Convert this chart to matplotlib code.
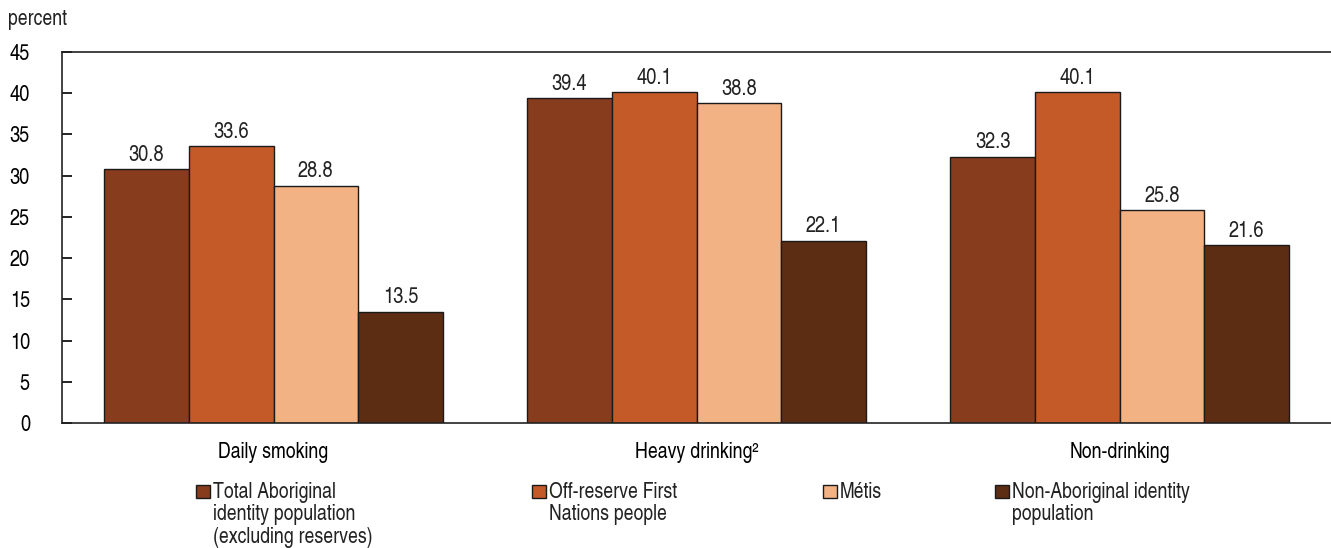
import matplotlib
matplotlib.use("Agg")
import matplotlib.pyplot as plt
from matplotlib.patches import Rectangle
import numpy as np

categories = ["Daily smoking", "Heavy drinking²", "Non-drinking"]
series_labels = [
    "Total Aboriginal\nidentity population\n(excluding reserves)",
    "Off-reserve First\nNations people",
    "Métis",
    "Non-Aboriginal identity\npopulation",
]
total_aboriginal = [30.8, 39.4, 32.3]
off_reserve_fn = [33.6, 40.1, 40.1]
metis = [28.8, 38.8, 25.8]
non_aboriginal = [13.5, 22.1, 21.6]
series_values = [total_aboriginal, off_reserve_fn, metis, non_aboriginal]
colors = ["#873C1E", "#C45A28", "#F3B283", "#5C2D12"]
yticks = [0, 5, 10, 15, 20, 25, 30, 35, 40, 45]

plt.rcParams['font.family'] = ['TeX Gyre Heros Cn', 'Liberation Sans', 'DejaVu Sans']
plt.rcParams['text.color'] = '#222222'
FS = 15.5
FN = 16

fig = plt.figure(figsize=(13.31, 5.48), dpi=100)
ax = fig.add_axes([62/1331, 1-423/548, 1-62/1331, (423-52)/548])

x = np.arange(len(categories))
w = 0.2
for i, (vals, c) in enumerate(zip(series_values, colors)):
    xs = x + (i - 1.5) * w
    bars = ax.bar(xs, vals, width=w, color=c, edgecolor='#1a1a1a', linewidth=1.0)
    for b, v in zip(bars, vals):
        ax.text(b.get_x() + b.get_width()/2, v + 0.4, f"{v:.1f}", ha='center', va='bottom', fontsize=FN)

ax.set_xlim(-0.5, 2.5)
ax.set_ylim(0, 45)
ax.set_yticks(yticks)
ax.set_yticklabels([str(t) for t in yticks], fontsize=FN)
ax.set_xticks(x)
ax.set_xticklabels(categories, fontsize=FS)
ax.tick_params(axis='x', length=0, pad=14)
ax.tick_params(axis='y', direction='in', length=7, pad=23, width=1.2)
for s in ['top', 'left', 'bottom']:
    ax.spines[s].set_linewidth(1.2)
    ax.spines[s].set_color('#222222')
ax.spines['right'].set_visible(False)

fig.text(8/1331, 1-19/548, "percent", fontsize=FS, va='center', ha='left')

legend_x = [196, 532, 823, 995]
for lx, lab, c in zip(legend_x, series_labels, colors):
    fig.add_artist(Rectangle((lx/1331, 1-498/548), 14/1331, 13/548, transform=fig.transFigure,
                             facecolor=c, edgecolor='#1a1a1a', linewidth=1.0))
    fig.text((lx+17)/1331, 1-482/548, lab, fontsize=FS, va='top', ha='left', linespacing=1.09)

fig.savefig("out.png", dpi=100)
